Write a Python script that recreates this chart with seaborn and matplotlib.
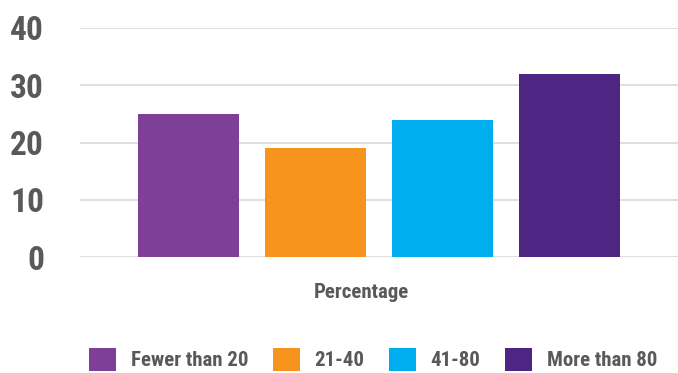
import matplotlib
matplotlib.use("Agg")
import matplotlib.pyplot as plt
import seaborn as sns
import pandas as pd
from matplotlib.patches import Patch

# Data
categories = ["Fewer than 20", "21-40", "41-80", "More than 80"]
values = [25, 19, 24, 32]
group = ["Percentage"] * len(categories)
colors = ["#7E3F98", "#F7941D", "#00AEEF", "#4E2583"]
yticks = [0, 10, 20, 30, 40]

sns.set_theme(style="white")
plt.rcParams["font.family"] = ["Roboto Condensed", "Pragati Narrow", "DejaVu Sans"]
plt.rcParams["font.weight"] = "bold"
TEXT = "#595959"

df = pd.DataFrame({"group": group, "size": categories, "value": values})

fig = plt.figure(figsize=(6.78, 3.73), dpi=100)
ax = fig.add_axes([80 / 678, (373 - 257) / 373, 598 / 678, 229 / 373])

sns.barplot(data=df, x="group", y="value", hue="size", hue_order=categories,
            palette=colors, gap=0.21, width=0.8, ax=ax, legend=False,
            saturation=1, edgecolor="none")

ax.set_ylim(0, 40)
ax.set_xlim(-0.471, 0.471)
ax.set_yticks(yticks)
ax.set_yticklabels([str(t) for t in yticks], fontsize=24, fontweight="bold", color=TEXT)
ax.tick_params(axis="y", length=0, pad=26)
ax.set_xticks([])
ax.set_ylabel("")
ax.set_xlabel("")
ax.yaxis.grid(True, color="#D9D9D9", linewidth=1.2)
ax.set_axisbelow(True)
for s in ax.spines.values():
    s.set_visible(False)

fig.text(361 / 678, 1 - 293 / 373, "Percentage", ha="center", va="center",
         fontsize=15, fontweight="bold", color=TEXT)

handles = [Patch(facecolor=c, edgecolor="none") for c in colors]
fig.legend(handles, categories, loc="center left",
           bbox_to_anchor=(89 / 678, 1 - 359.5 / 373), borderaxespad=0, borderpad=0,
           ncol=4, frameon=False, handlelength=1.3, handleheight=1.3,
           handletextpad=0.72, columnspacing=1.15, labelcolor=TEXT,
           prop={"weight": "bold", "size": 15})

fig.savefig("out.png", dpi=100)
